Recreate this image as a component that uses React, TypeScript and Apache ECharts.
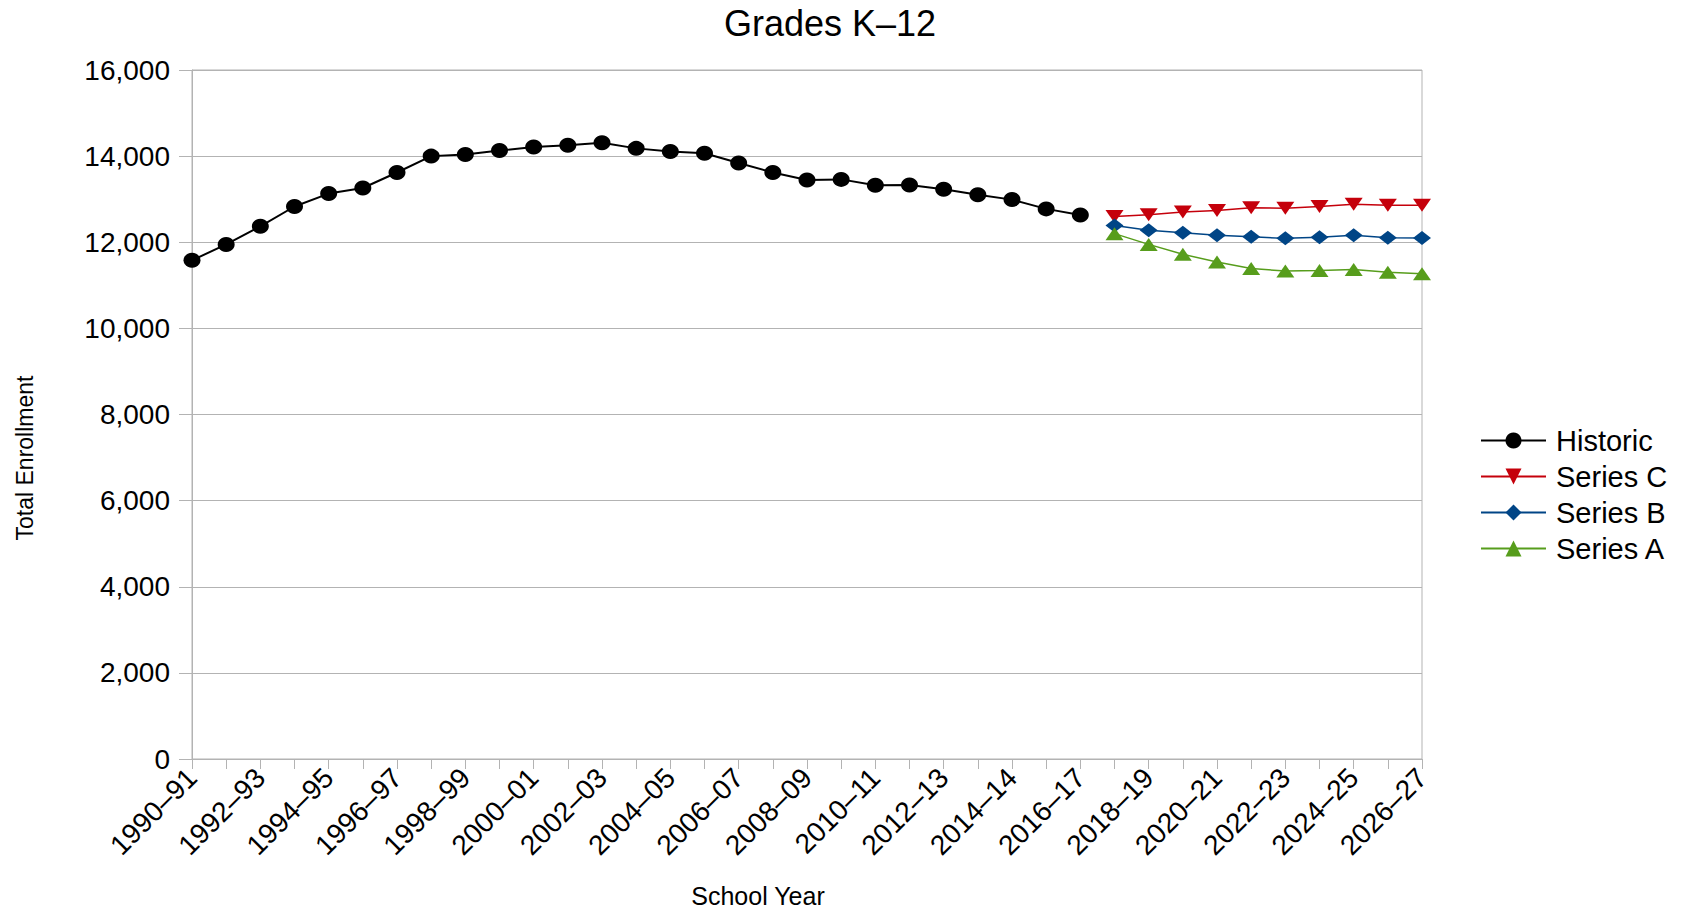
import React, { useEffect, useRef } from "react";
import * as echarts from "echarts";

const categories = [
  "1990–91", "1991–92", "1992–93", "1993–94", "1994–95", "1995–96", "1996–97",
  "1997–98", "1998–99", "1999–2000", "2000–01", "2001–02", "2002–03", "2003–04",
  "2004–05", "2005–06", "2006–07", "2007–08", "2008–09", "2009–10", "2010–11",
  "2011–12", "2012–13", "2013–14", "2014–14", "2015–16", "2016–17", "2017–18",
  "2018–19", "2019–20", "2020–21", "2021–22", "2022–23", "2023–24", "2024–25",
  "2025–26", "2026–27",
];

const historic = [
  11580, 11950, 12370, 12830, 13130, 13260, 13620, 14000, 14040, 14130, 14210,
  14250, 14310, 14180, 14110, 14065, 13840, 13620, 13445, 13460, 13325, 13330,
  13230, 13105, 12990, 12775, 12635,
];

const seriesC = [12600, 12640, 12700, 12740, 12800, 12790, 12830, 12880, 12860, 12860];
const seriesB = [12390, 12280, 12220, 12165, 12125, 12090, 12115, 12160, 12105, 12100];
const seriesA = [12200, 11950, 11720, 11540, 11390, 11330, 11345, 11365, 11305, 11270];

const yTicks = { min: 0, max: 16000, interval: 2000 };

const FONT = "Liberation Sans";

export default function App() {
  const ref = useRef<HTMLDivElement>(null);

  useEffect(() => {
    if (!ref.current) return;
    const chart = echarts.init(ref.current, undefined, { renderer: "svg" });

    const nHist = historic.length;
    const histData = categories.map((_, i) => (i < nHist ? historic[i] : null));
    const proj = (arr: number[]) =>
      categories.map((_, i) => (i >= nHist && i - nHist < arr.length ? arr[i - nHist] : null));

    chart.setOption({
      animation: false,
      textStyle: { fontFamily: FONT, color: "#000" },
      title: {
        text: "Grades K–12",
        left: 825,
        top: 0,
        textAlign: "center",
        textStyle: { fontFamily: FONT, fontSize: 36, fontWeight: "normal", color: "#000" },
      },
      grid: {
        left: 192,
        right: 263,
        top: 70,
        bottom: 155,
        show: true,
        borderColor: "#b3b3b3",
        borderWidth: 1,
        containLabel: false,
        outerBoundsMode: "none",
      },
      legend: {
        orient: "vertical",
        left: 1480,
        top: 426,
        itemWidth: 65,
        itemHeight: 20,
        itemGap: 7,
        padding: 0,
        textStyle: { fontFamily: FONT, fontSize: 29, color: "#000", padding: [0, 0, 0, 5] },
        data: ["Historic", "Series C", "Series B", "Series A"],
      },
      xAxis: {
        type: "category",
        data: categories,
        boundaryGap: false,
        axisLine: { show: true, lineStyle: { color: "#b3b3b3", width: 1 } },
        axisTick: { show: true, interval: 0, length: 10, lineStyle: { color: "#b3b3b3" } },
        axisLabel: {
          interval: 1,
          rotate: 45,
          margin: 14,
          fontFamily: FONT,
          fontSize: 28,
          color: "#000",
        },
        splitLine: { show: false },
      },
      yAxis: {
        type: "value",
        min: yTicks.min,
        max: yTicks.max,
        interval: yTicks.interval,
        axisLine: { show: true, lineStyle: { color: "#b3b3b3", width: 1 } },
        axisTick: { show: true, length: 13, lineStyle: { color: "#b3b3b3" } },
        axisLabel: {
          margin: 22,
          fontFamily: FONT,
          fontSize: 28,
          color: "#000",
          formatter: (v: number) => v.toLocaleString("en-US"),
        },
        splitLine: { show: true, lineStyle: { color: "#b3b3b3", width: 1 } },
      },
      graphic: [
        {
          type: "text",
          x: 25,
          y: 458,
          rotation: Math.PI / 2,
          style: {
            text: "Total Enrollment",
            fontFamily: FONT,
            fontSize: 23,
            fill: "#000",
            textAlign: "center",
            textVerticalAlign: "middle",
          },
        },
        {
          type: "text",
          x: 758,
          y: 896,
          style: {
            text: "School Year",
            fontFamily: FONT,
            fontSize: 25,
            fill: "#000",
            textAlign: "center",
            textVerticalAlign: "middle",
          },
        },
      ],
      series: [
        {
          name: "Historic",
          type: "line",
          data: histData,
          symbol: "circle",
          symbolSize: [17, 15],
          itemStyle: { color: "#000000" },
          lineStyle: { color: "#000000", width: 2 },
          connectNulls: false,
          z: 5,
        },
        {
          name: "Series C",
          type: "line",
          data: proj(seriesC),
          symbol: "triangle",
          symbolRotate: 180,
          symbolSize: [18, 13],
          itemStyle: { color: "#c5000b" },
          lineStyle: { color: "#c5000b", width: 1.5 },
        },
        {
          name: "Series B",
          type: "line",
          data: proj(seriesB),
          symbol: "diamond",
          symbolSize: [18, 14],
          itemStyle: { color: "#004586" },
          lineStyle: { color: "#004586", width: 1.5 },
        },
        {
          name: "Series A",
          type: "line",
          data: proj(seriesA),
          symbol: "triangle",
          symbolSize: [18, 13],
          itemStyle: { color: "#579d1c" },
          lineStyle: { color: "#579d1c", width: 1.5 },
        },
      ],
    });

    return () => chart.dispose();
  }, []);

  return (
    <div
      ref={ref}
      style={{ position: "fixed", left: 0, top: 0, width: 1685, height: 914, background: "#fff" }}
    />
  );
}
